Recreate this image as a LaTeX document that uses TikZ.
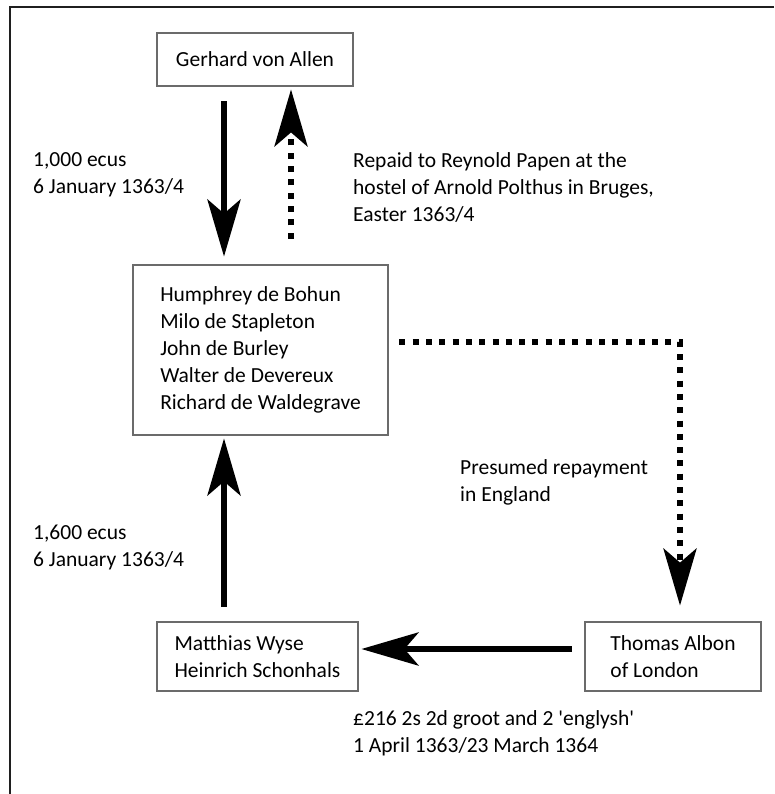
\documentclass[tikz,border=0pt]{standalone}
\usepackage{fontspec}
\setmainfont{Carlito}
\usetikzlibrary{arrows.meta}
\tikzstyle{party}=[draw=black!58,line width=2.8pt,fill=white,align=left,inner sep=0pt,font=\fontsize{21.5}{27}\selectfont]
\tikzstyle{note}=[anchor=west,align=left,inner sep=0pt,font=\fontsize{21.5}{27}\selectfont]
\tikzstyle{flow}=[draw,line width=6.5pt,-{Stealth[length=57pt,width=33pt,inset=14pt]}]
\tikzstyle{repay}=[flow,line width=6pt,dash pattern=on 6pt off 7.3pt]

\begin{document}
\begin{tikzpicture}[x=1pt,y=-1pt]
    \useasboundingbox (0,0) rectangle (774,794);
    % Outer frame (only top and left edges show)
    \draw[line width=2.5pt,black!88] (774,7) -- (10,7) -- (10,794);

    % The parties
    \node[party,minimum width=196pt,minimum height=53pt] (gerhard) at (255,59.5) {Gerhard von Allen};
    \node[party,minimum width=255pt,minimum height=170pt] (lords) at (260.5,350)
        {Humphrey de Bohun\\Milo de Stapleton\\John de Burley\\Walter de Devereux\\Richard de Waldegrave};
    \node[party,minimum width=201pt,minimum height=69pt] (wyse) at (257.5,656.5) {Matthias Wyse\\Heinrich Schonhals};
    \node[party,minimum width=176pt,minimum height=69pt] (albon) at (673,656.5) {Thomas Albon\\of London};

    % Columns of the vertical arrows
    \coordinate (lx) at (224,0);
    \coordinate (rx) at (291,0);
    \coordinate (ex) at (680,0);

    % Payments
    \path[flow,shorten <=14pt,shorten >=7pt] (gerhard.south -| lx) -- (lords.north -| lx);
    \path[repay,shorten <=25pt,shorten >=2pt] (lords.north -| rx) -- (gerhard.south -| rx);
    \path[repay,shorten <=10pt,shorten >=15pt] ([yshift=8pt]lords.east) -| (albon.north -| ex);
    \path[flow,shorten <=14pt,shorten >=2pt] (wyse.north -| lx) -- (lords.south -| lx);
    \path[flow,shorten <=12pt,shorten >=2pt] ([yshift=7.5pt]albon.west) -- ([yshift=7.5pt]wyse.east);

    % Labels
    \foreach \pos/\name/\txt in {{(33,175)/loanA/{1,000 ecus\\6 January 1363/4}},
        {(353,187)/repaidA/{Repaid to Reynold Papen at the\\hostel of Arnold Polthus in Bruges,\\Easter 1363/4}},
        {(460,482)/repaidB/{Presumed repayment\\in England}},
        {(33,547)/loanB/{1,600 ecus\\6 January 1363/4}},
        {(353,733)/exchange/{£216 2s 2d groot and 2 \textquotesingle englysh\textquotesingle\\1 April 1363/23 March 1364}}}
        \node[note] (\name) at \pos {\txt};
\end{tikzpicture}
\end{document}
